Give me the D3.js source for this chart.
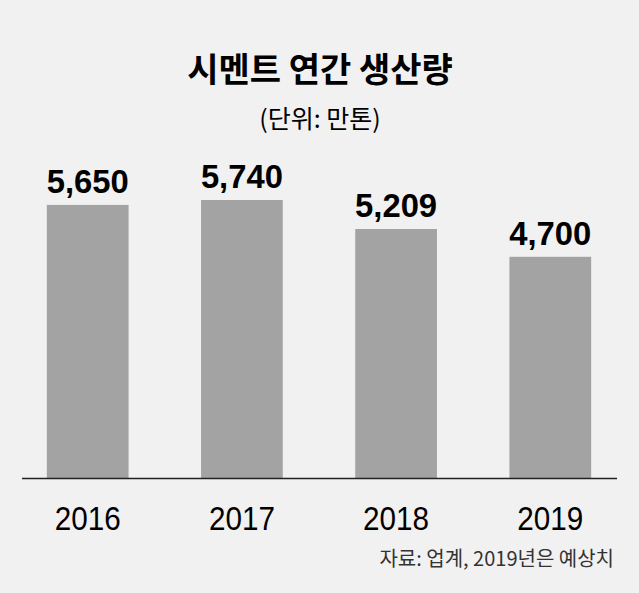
<!DOCTYPE html>
<html><head><meta charset="utf-8">
<script src="https://cdn.jsdelivr.net/npm/d3@7"></script>
<style>body{margin:0;background:#f1f1f1}</style>
</head><body>
<svg id="c"></svg>
<script>
const years = ['2016', '2017', '2018', '2019'];
const values = [5650, 5740, 5209, 4700];
const valueLabels = ['5,650', '5,740', '5,209', '4,700'];

const W = 639, H = 593;
const svg = d3.select('#c').attr('width', W).attr('height', H);
svg.append('rect').attr('width', W).attr('height', H).attr('fill', '#f1f1f1');

const x = d3.scaleBand().domain(years).range([16, 622]).paddingInner(0.47).paddingOuter(0.2);
const y = d3.scaleLinear().domain([650, 5740]).range([478, 200]);

const kr = "'Noto Sans CJK KR', sans-serif";
const num = "'Liberation Sans', sans-serif";

svg.append('text').attr('x', 320).attr('y', 82).attr('text-anchor', 'middle')
  .attr('font-family', kr).attr('font-weight', 'bold').attr('font-size', 34)
  .text('시멘트 연간 생산량');
svg.append('text').attr('x', 320).attr('y', 128).attr('text-anchor', 'middle')
  .attr('font-family', kr).attr('font-size', 25).text('(단위: 만톤)');

svg.selectAll('.bar').data(values).join('rect')
  .attr('x', (d, i) => x(years[i])).attr('width', x.bandwidth())
  .attr('y', d => y(d)).attr('height', d => 478 - y(d)).attr('fill', '#a3a3a3');

svg.selectAll('.lbl').data(values).join('text')
  .attr('x', (d, i) => x(years[i]) + x.bandwidth() / 2 - 41).attr('y', d => y(d) - 12)
  .attr('textLength', 82).attr('lengthAdjust', 'spacingAndGlyphs')
  .attr('font-family', num).attr('font-weight', 'bold')
  .attr('font-size', 34).text((d, i) => valueLabels[i]);

svg.append('line').attr('x1', 22).attr('x2', 617).attr('y1', 478.5).attr('y2', 478.5)
  .attr('stroke', '#222').attr('stroke-width', 1.5);

svg.selectAll('.xl').data(years).join('text')
  .attr('x', d => x(d) + x.bandwidth() / 2 - 33).attr('y', 530)
  .attr('textLength', 66).attr('lengthAdjust', 'spacingAndGlyphs')
  .attr('font-family', num).attr('font-size', 33).text(d => d);

svg.append('text').attr('x', 614).attr('y', 566).attr('text-anchor', 'end')
  .attr('font-family', kr).attr('font-size', 20).attr('fill', '#333')
  .text('자료: 업계, 2019년은 예상치');
</script>
</body></html>
